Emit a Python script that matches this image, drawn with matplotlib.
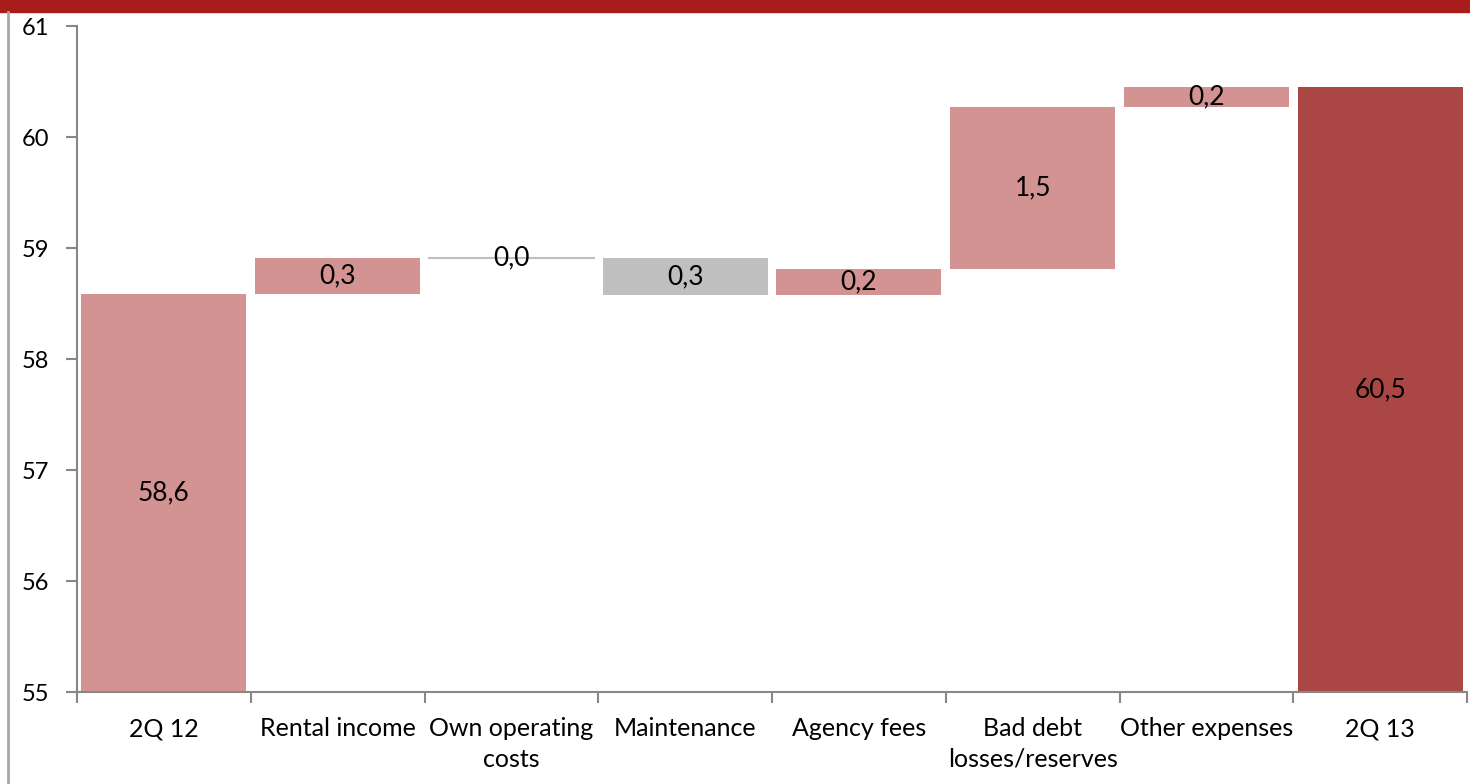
import matplotlib.pyplot as plt
from matplotlib.patches import Rectangle
from matplotlib.lines import Line2D

plt.rcParams['font.family'] = ['Lato', 'DejaVu Sans']

# waterfall: opening value, movements, closing value
categories = ["2Q 12", "Rental income", "Own operating\ncosts", "Maintenance",
              "Agency fees", "Bad debt\nlosses/reserves", "Other expenses", "2Q 13"]
start = 58.59
deltas = [0.32, 0.0, -0.33, 0.23, 1.46, 0.18]
end = 60.45
yticks = [55, 56, 57, 58, 59, 60, 61]

pink = "#D39392"
grey = "#BFBFBF"
dark = "#AA4744"
axis_col = "#878787"

fig = plt.figure(figsize=(14.7, 7.84), dpi=100)
ax = fig.add_axes([0.0524, 0.1173, 0.9456, 0.8495])

# top banner and left border
fig.patches.append(Rectangle((0, 0.9847), 1, 0.0153, transform=fig.transFigure,
                             color="#A81C1C", zorder=0))
fig.lines.append(Line2D([0.0055, 0.0055], [0, 0.985], transform=fig.transFigure,
                        color="#A6A6A6", lw=2))

w = 0.95
xs = [i + 0.5 for i in range(len(categories))]
lab_fs = 19

# opening bar
ax.bar(xs[0], start, width=w, color=pink, zorder=2)
ax.text(xs[0], (55 + start) / 2, f"{start:.1f}".replace(".", ","),
        ha="center", va="center", fontsize=lab_fs)

level = start
for i, d in enumerate(deltas):
    x = xs[i + 1]
    lo = min(level, level + d)
    col = grey if d <= 0 else pink
    if d == 0:
        ax.plot([x - w / 2, x + w / 2], [level, level], color=grey, lw=1.5, zorder=2)
    else:
        ax.bar(x, abs(d), bottom=lo, width=w, color=col, zorder=2)
    ax.text(x, lo + abs(d) / 2, f"{abs(d):.1f}".replace(".", ","),
            ha="center", va="center", fontsize=lab_fs, zorder=3)
    level += d

# closing bar
ax.bar(xs[-1], end, width=w, color=dark, zorder=2)
ax.text(xs[-1], (55 + end) / 2, f"{end:.1f}".replace(".", ","),
        ha="center", va="center", fontsize=lab_fs)

ax.set_xlim(0, len(categories))
ax.set_ylim(55, 61)
ax.set_yticks(yticks)
ax.set_yticklabels([str(t) for t in yticks], fontsize=17)
ax.set_xticks(range(len(categories) + 1))
ax.set_xticklabels([])
ax.set_xticks(xs, minor=True)
ax.set_xticklabels(categories, minor=True, fontsize=18, linespacing=1.4)
ax.tick_params(axis="x", which="minor", length=0, pad=18)
ax.tick_params(axis="x", which="major", length=8, color=axis_col, width=1.5)
ax.tick_params(axis="y", length=8, color=axis_col, width=1.5, pad=12)

for s in ["top", "right"]:
    ax.spines[s].set_visible(False)
for s in ["left", "bottom"]:
    ax.spines[s].set_color(axis_col)
    ax.spines[s].set_linewidth(1.5)

fig.savefig("out.png", dpi=100)
